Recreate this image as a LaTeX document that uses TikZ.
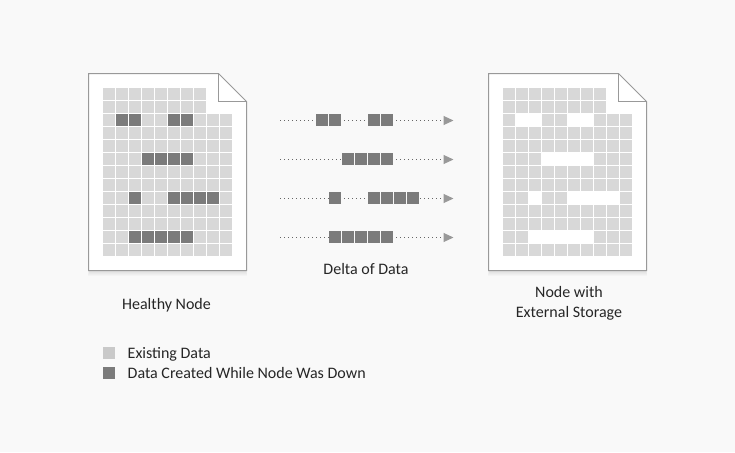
\documentclass[tikz,border=0pt]{standalone}
\usepackage{fontspec}
\setmainfont{Carlito}
\usetikzlibrary{arrows.meta}
\definecolor{pagebg}{HTML}{F9F9F9}
\definecolor{cellgray}{HTML}{D8D8D8}
\definecolor{celldark}{HTML}{7B7B7B}
\definecolor{edgegray}{HTML}{999999}
\definecolor{dotgray}{HTML}{666666}
\definecolor{keygray}{HTML}{C9C9C9}
\definecolor{labelgray}{HTML}{262626}
\tikzset{
  cell/.style={inner sep=0pt,minimum size=12pt,fill=cellgray},
  darkcell/.style={cell,fill=celldark},
  holecell/.style={cell,fill=white},
  keycell/.style={cell,anchor=north west},
  sheet/.style={draw=edgegray,line width=1pt,fill=white,line join=miter},
  dotline/.style={dotgray,line width=1pt,dash pattern=on 1pt off 3pt},
  lbl/.style={text=labelgray,font=\fontsize{16}{20}\selectfont,align=center,inner sep=0pt,anchor=base}
}
\begin{document}
\begin{tikzpicture}[x=1pt,y=-1pt]
        \fill[pagebg] (0,0) rectangle (735,452);
        % the two sheets
        \foreach \dx/\nm/\dk in {0/a/darkcell,400/b/holecell} {
          \foreach \g in {1,...,5}
            \fill[black,opacity=.02] (89.5-\g/3+\dx,110) rectangle (245.5+\g/3+\dx,270.5+\g);
          \draw[sheet] (88.5+\dx,73.5) -- (218.5+\dx,73.5) -- (246.5+\dx,101.5) -- (246.5+\dx,270.5) -- (88.5+\dx,270.5) -- cycle;
          \draw[sheet,fill=none] (218.5+\dx,73.5) -- (218.5+\dx,101.5) -- (246.5+\dx,101.5);
          \foreach \r in {0,...,12} {
            \foreach \c in {0,...,9} {
              \pgfmathtruncatemacro{\keep}{(\r>1)||(\c<8)}
              \ifnum\keep=1
                \node[cell] (\nm\r-\c) at (109+13*\c+\dx,94+13*\r) {};
              \fi
            }
          }
          \foreach \r/\c in {2/1,2/2,2/5,2/6,5/3,5/4,5/5,5/6,8/2,8/5,8/6,8/7,8/8,11/2,11/3,11/4,11/5,11/6}
            \node[\dk] at (\nm\r-\c) {};
        }
        % delta of data
        \foreach \r/\c in {2/1,2/2,2/5,2/6,5/3,5/4,5/5,5/6,8/2,8/5,8/6,8/7,8/8,11/2,11/3,11/4,11/5,11/6}
          \node[darkcell] (d\r-\c) at (309+13*\c,94+13*\r) {};
        \foreach \r in {2,5,8,11} {
          \coordinate (s\r) at (280,94.5+13*\r);
          \coordinate (t\r) at (453.5,94.5+13*\r);
        }
        \foreach \r/\c in {2/1,5/3,8/2,11/2}
          \draw[dotline] (s\r) -- ([yshift=-.5pt]d\r-\c.west);
        \foreach \r/\a/\b in {2/2/5,8/2/5}
          \draw[dotline,shorten <=3pt] ([yshift=-.5pt]d\r-\a.east) -- ([yshift=-.5pt]d\r-\b.west);
        \foreach \r/\c/\gap in {2/6/3,5/6/3,8/8/1,11/6/3}
          \draw[dotline,shorten <=\gap pt,-{Triangle[length=10pt,width=9pt,color=edgegray]}] ([yshift=-.5pt]d\r-\c.east) -- (t\r);
        % labels
        \node[lbl] (healthy) at (166.5,309) {Healthy Node};
        \node[lbl] (delta) at (366,274) {Delta of Data};
        \node[lbl] (external) at (569,317) {Node with\\External Storage};
        % legend
        \node[keycell,fill=keygray] (keyold) at (103,347) {};
        \node[keycell,fill=celldark] (keynew) at (103,367) {};
        \node[lbl,anchor=base west] (oldtext) at (127.5,358) {Existing Data};
        \node[lbl,anchor=base west] (newtext) at (127.5,378) {Data Created While Node Was Down};
      \end{tikzpicture}
\end{document}
